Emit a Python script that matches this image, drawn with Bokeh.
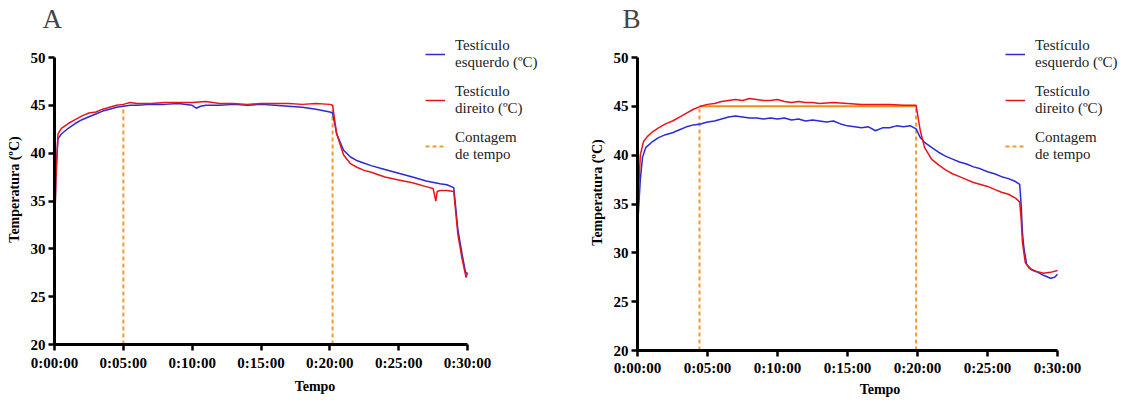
from bokeh.plotting import figure
from bokeh.layouts import row
from bokeh.models import Range1d, FixedTicker, Legend, LegendItem
from bokeh.embed import file_html
from bokeh.resources import INLINE

# ---------------- data (time in minutes, temperature in ºC) ----------------
tick_values = [0, 5, 10, 15, 20, 25, 30]
tick_labels = ["0:00:00", "0:05:00", "0:10:00", "0:15:00", "0:20:00", "0:25:00", "0:30:00"]
y_ticks = [20, 25, 30, 35, 40, 45, 50]

# Panel A
a_left_t = [0, 0.1, 0.25, 0.5, 1, 1.5, 2, 2.5, 3, 3.5, 4, 4.5, 5, 5.5, 6, 7, 8, 9, 10, 10.3, 10.6, 11, 12,
            13, 14, 15, 16, 17, 18, 19, 20, 20.2, 20.5, 21, 21.5, 22, 22.4, 23, 24, 25, 26, 27, 28, 28.5,
            29, 29.1, 29.3, 29.6, 29.85, 30]
a_left_v = [31.0, 38.0, 41.5, 42.0, 42.6, 43.1, 43.5, 43.8, 44.1, 44.4, 44.6, 44.8, 44.9, 45.0, 45.0, 45.1,
            45.1, 45.2, 45.0, 44.7, 44.9, 45.0, 45.0, 45.1, 45.0, 45.1, 45.0, 44.9, 44.8, 44.6, 44.3, 44.2,
            42.0, 40.3, 39.6, 39.2, 39.0, 38.7, 38.3, 37.9, 37.5, 37.1, 36.8, 36.7, 36.4, 35.0, 32.0, 29.5,
            27.6, 27.4]

a_right_t = [0, 0.1, 0.25, 0.5, 1, 1.5, 2, 2.5, 3, 3.5, 4, 4.5, 5, 5.5, 6, 7, 8, 9, 10, 11, 12, 13, 14,
             15, 16, 17, 18, 19, 20, 20.2, 20.5, 21, 21.5, 22, 22.5, 23, 24, 25, 26, 27, 27.5, 27.7, 27.8,
             28, 28.5, 29, 29.1, 29.3, 29.6, 29.85, 29.9, 30]
a_right_v = [31.5, 37.0, 42.0, 42.6, 43.1, 43.5, 43.9, 44.2, 44.3, 44.6, 44.8, 45.0, 45.1, 45.3, 45.2,
             45.2, 45.3, 45.3, 45.3, 45.4, 45.2, 45.2, 45.1, 45.2, 45.2, 45.2, 45.1, 45.2, 45.1, 45.0,
             42.0, 39.8, 38.9, 38.5, 38.2, 38.0, 37.5, 37.2, 36.9, 36.5, 36.3, 35.0, 36.0, 36.1, 36.1,
             36.0, 34.5, 31.5, 29.0, 27.3, 27.0, 27.5]

a_count_start = 5.0
a_count_end = 20.2
a_count_level = 45.0

# Panel B
b_left_t = [0, 0.1, 0.2, 0.36, 0.6, 1, 1.5, 2, 2.5, 3, 3.5, 4, 4.5, 5, 5.5, 6, 6.5, 7, 7.5, 8, 8.5, 9,
            9.5, 10, 10.5, 11, 11.5, 12, 12.5, 13, 13.5, 14, 14.5, 15, 15.5, 16, 16.5, 17, 17.5, 18, 18.5,
            19, 19.5, 19.9, 20.2, 20.5, 21, 21.5, 22, 22.5, 23, 23.5, 24, 24.5, 25, 25.5, 26, 26.5, 27,
            27.3, 27.4, 27.5, 27.6, 27.8, 28.2, 28.6, 29, 29.5, 29.8, 30]
b_left_v = [32.5, 35.0, 37.5, 39.8, 40.8, 41.3, 41.8, 42.1, 42.3, 42.6, 42.9, 43.1, 43.2, 43.4, 43.5,
            43.7, 43.9, 44.0, 43.9, 43.8, 43.8, 43.7, 43.8, 43.7, 43.8, 43.6, 43.7, 43.5, 43.6, 43.5,
            43.4, 43.5, 43.2, 43.0, 42.9, 42.8, 42.9, 42.5, 42.8, 42.8, 43.0, 42.9, 43.0, 42.7, 41.8,
            41.3, 40.8, 40.3, 39.9, 39.6, 39.3, 39.1, 38.8, 38.6, 38.3, 38.1, 37.8, 37.6, 37.3, 37.0,
            35.0, 32.0, 30.5, 28.8, 28.2, 28.0, 27.7, 27.4, 27.5, 27.8]

b_right_t = [0, 0.1, 0.2, 0.43, 0.7, 1, 1.5, 2, 2.5, 3, 3.5, 4, 4.5, 5, 5.5, 6, 6.5, 7, 7.5, 8, 8.5, 9,
             9.5, 10, 10.5, 11, 11.5, 12, 12.5, 13, 14, 15, 16, 17, 18, 19, 19.9, 20.2, 20.5, 21, 21.5,
             22, 22.5, 23, 23.5, 24, 24.5, 25, 25.5, 26, 26.5, 27, 27.3, 27.4, 27.5, 27.7, 28, 28.5, 29,
             29.5, 30]
b_right_v = [32.5, 37.0, 40.0, 41.4, 41.9, 42.3, 42.8, 43.2, 43.5, 43.9, 44.3, 44.7, 45.0, 45.2, 45.3,
             45.5, 45.6, 45.7, 45.6, 45.8, 45.7, 45.6, 45.6, 45.7, 45.5, 45.4, 45.5, 45.4, 45.4, 45.3,
             45.4, 45.3, 45.2, 45.2, 45.2, 45.1, 45.1, 42.5, 40.8, 39.6, 39.0, 38.5, 38.1, 37.8, 37.5,
             37.2, 37.0, 36.8, 36.5, 36.2, 36.0, 35.6, 35.2, 33.5, 31.0, 29.0, 28.4, 28.1, 27.9, 28.0,
             28.2]

b_count_start = 4.43
b_count_end = 19.9
b_count_level = 45.0

series_labels = ["Testículo\nesquerdo (ºC)", "Testículo\ndireito (ºC)", "Contagem\nde tempo"]

# ---------------- styling / layout ----------------
BLUE = "#2a2ad6"
RED = "#e8141c"
ORANGE = "#f39a2c"
SERIF = "Liberation Serif"

FRAME_TOP = 34      # page px
PAGE_H = 396        # total figure height (kept below the window height)


def make_panel(letter, fig_left, frame_left, frame_right, x0px, x30px, y20px, y50px,
               lt, lv, rt, rv, c0, c1, clevel, horiz, legend_top, right_border, title_offset,
               lab_standoff, axlab_standoff):
    xppu = (x30px - x0px) / 30.0
    yppu = (y20px - y50px) / 30.0
    x_end = 30.0 + (frame_right - x30px) / xppu
    y_end = 50.0 + (y50px - FRAME_TOP) / yppu
    frame_bottom = y20px

    p = figure(frame_width=frame_right - frame_left, frame_height=frame_bottom - FRAME_TOP,
               output_backend="svg", toolbar_location=None,
               x_range=Range1d(0, x_end), y_range=Range1d(20, y_end),
               min_border_left=frame_left - fig_left, min_border_right=right_border,
               min_border_top=FRAME_TOP, min_border_bottom=PAGE_H - frame_bottom)
    p.frame_align = False
    p.grid.visible = False
    p.outline_line_color = None
    p.title.text = letter
    p.title.text_font = SERIF
    p.title.text_font_style = "normal"
    p.title.text_font_size = "27px"
    p.title.align = "left"
    p.title.offset = title_offset
    p.title.standoff = 2

    for ax in (p.xaxis, p.yaxis):
        ax.axis_line_width = 3
        ax.axis_line_color = "black"
        ax.major_tick_line_width = 2.5
        ax.major_tick_in = 0
        ax.major_tick_out = 6
        ax.minor_tick_in = 0
        ax.minor_tick_out = 0
        ax.major_label_text_font = SERIF
        ax.major_label_text_font_style = "bold"
        ax.major_label_text_font_size = "15px"
        ax.major_label_text_color = "black"
        ax.axis_label_text_font = SERIF
        ax.axis_label_text_font_style = "bold"
        ax.axis_label_text_font_size = "14px"
        ax.axis_label_text_color = "black"
    p.xaxis.ticker = FixedTicker(ticks=tick_values)
    p.xaxis.major_label_overrides = {v: s for v, s in zip(tick_values, tick_labels)}
    p.yaxis.ticker = FixedTicker(ticks=y_ticks)
    p.xaxis.bounds = (tick_values[0], tick_values[-1])
    p.yaxis.bounds = (y_ticks[0], y_ticks[-1])
    p.xaxis.axis_label = "Tempo"
    p.yaxis.axis_label = "Temperatura (ºC)"
    p.xaxis.major_label_standoff = lab_standoff
    p.yaxis.major_label_standoff = 3
    p.yaxis.axis_label_standoff = 6
    p.xaxis.axis_label_standoff = axlab_standoff

    d1 = p.line([c0, c0], [20, clevel], line_color=ORANGE, line_width=2, line_dash="4 3")
    p.line([c1, c1], [20, clevel], line_color=ORANGE, line_width=2, line_dash="4 3")
    if horiz:
        p.line([c0, c1], [clevel, clevel], line_color="#f08a1c", line_width=2)
    r_blue = p.line(lt, lv, line_color=BLUE, line_width=1.5)
    r_red = p.line(rt, rv, line_color=RED, line_width=1.5)

    legend_h = 3 * 34 + 2 * 12
    legend = Legend(items=[LegendItem(label=series_labels[0], renderers=[r_blue]),
                           LegendItem(label=series_labels[1], renderers=[r_red]),
                           LegendItem(label=series_labels[2], renderers=[d1])],
                    location=(legend_top[0], frame_bottom - (legend_top[1] + legend_h)),
                    border_line_color=None, background_fill_alpha=0,
                    padding=0, margin=0, spacing=12, glyph_width=20, label_standoff=10,
                    label_text_font=SERIF, label_text_font_size="15px",
                    label_text_line_height=1.12, label_text_color="#222222")
    p.add_layout(legend)
    return p


# A: figure spans page x 0..580, frame 54..575 ; B: figure 580..1127, frame 637..1122
pA = make_panel("A", 0, 54, 575, 54, 467, 344, 57,
                a_left_t, a_left_v, a_right_t, a_right_v,
                a_count_start, a_count_end, a_count_level, False,
                (371, 37), 5, -12, 4, 5)
pB = make_panel("B", 580, 637, 1122, 637, 1057, 350, 57,
                b_left_t, b_left_v, b_right_t, b_right_v,
                b_count_start, b_count_end, b_count_level, True,
                (368, 37), 5, -15, 3, 3)

layout = row(pA, pB)
open("out.html", "w").write(file_html(layout, INLINE))
